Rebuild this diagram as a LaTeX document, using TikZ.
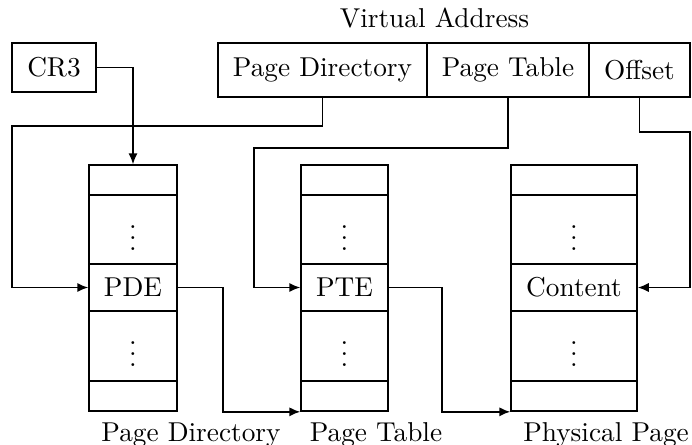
\documentclass[tikz,border=0pt]{standalone}
\usetikzlibrary{arrows.meta}
\begin{document}
\begin{tikzpicture}[x=0.3663pt,y=-0.3663pt,
  cell/.style={draw,line width=0.6pt,inner sep=0pt,rectangle,anchor=center},
  arr/.style={line width=0.6pt,-{Latex[length=4pt,width=3.4pt]}},
  lbl/.style={inner sep=0pt,anchor=base}]
\useasboundingbox (0,0) rectangle (692,444);
% CR3
\node[cell,minimum width=84*0.3663pt,minimum height=49*0.3663pt] (cr3) at (54,67.5) {CR3};
% Virtual address
\node[lbl] (vatitle) at (434.5,28) {Virtual Address};
\node[cell,minimum width=209*0.3663pt,minimum height=54*0.3663pt] (vapd) at (322.5,70) {Page Directory};
\node[cell,minimum width=162*0.3663pt,minimum height=54*0.3663pt] (vapt) at (508,70) {Page Table};
\node[cell,minimum width=101*0.3663pt,minimum height=54*0.3663pt] (vaoff) at (639.5,70) {Offset};
% columns
\foreach \nm/\cx/\w in {pd/133/88, pt/344.5/87, pp/574/126}{
  \node[cell,minimum width=\w*0.3663pt,minimum height=30*0.3663pt] (\nm1) at (\cx,180) {};
  \node[cell,minimum width=\w*0.3663pt,minimum height=69*0.3663pt] (\nm2) at (\cx,229.5) {$\vdots$};
  \node[cell,minimum width=\w*0.3663pt,minimum height=70*0.3663pt] (\nm4) at (\cx,346) {$\vdots$};
  \node[cell,minimum width=\w*0.3663pt,minimum height=30*0.3663pt] (\nm5) at (\cx,396) {};
}
\node[cell,minimum width=88*0.3663pt,minimum height=47*0.3663pt] (pde) at (133,287.5) {PDE};
\node[cell,minimum width=87*0.3663pt,minimum height=47*0.3663pt] (pte) at (344.5,287.5) {PTE};
\node[cell,minimum width=126*0.3663pt,minimum height=47*0.3663pt] (cont) at (574,287.5) {Content};
% labels
\node[lbl] (lpd) at (191,441) {Page Directory};
\node[lbl] (lpt) at (376,441) {Page Table};
\node[lbl] (lpp) at (606,441) {Physical Page};
% turning points
\coordinate (k1) at (12,126);
\coordinate (k2) at (254,148);
\coordinate (k3) at (690,132);
\coordinate (k4) at (223,300);
\coordinate (k5) at (442,300);
% connectors
\draw[arr] (cr3.east) -| (pd1.north);
\draw[arr] (vapd.south) |- (k1) |- (pde.west);
\draw[arr] (vapt.south) |- (k2) |- (pte.west);
\draw[arr] (vaoff.south) |- (k3) |- (cont.east);
\draw[arr] (pde.east) -- (pde.east -| k4) |- (pt5.south west);
\draw[arr] (pte.east) -- (pte.east -| k5) |- (pp5.south west);
\end{tikzpicture}
\end{document}
